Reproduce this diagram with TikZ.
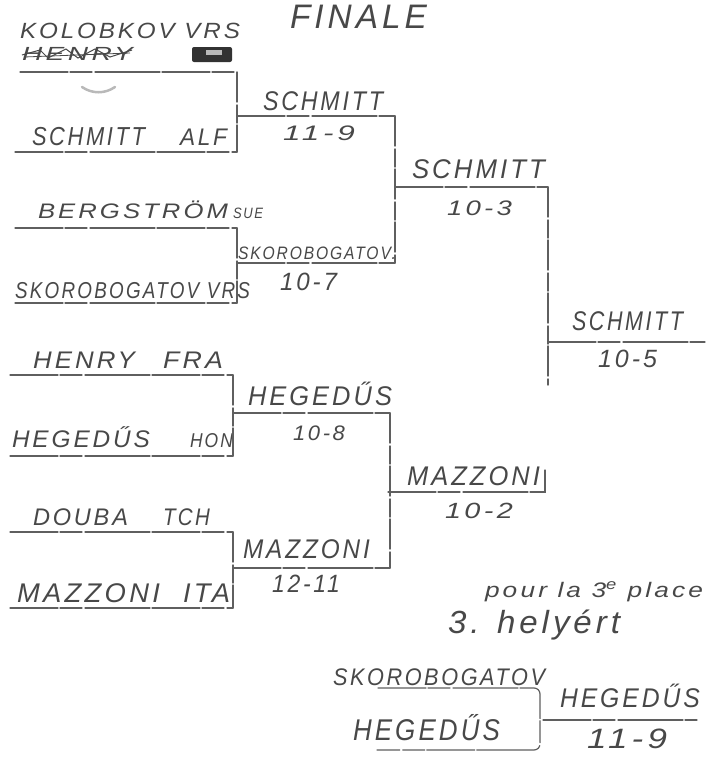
\documentclass[tikz,border=0pt]{standalone}
\usepackage{fontspec}
\usepackage{graphicx}
\newfontfamily\hand[LetterSpace=12]{Liberation Sans}
\definecolor{txtc}{RGB}{72,72,72}
\definecolor{linec}{RGB}{95,95,95}
\newcommand\hw[3]{\resizebox{#1pt}{\height}{\fontsize{#2}{#2}\selectfont\hand\itshape #3}}
\begin{document}
\begin{tikzpicture}[x=1pt,y=-1pt,
  lbl/.style={text=txtc, anchor=base west, inner sep=0pt, outer sep=0pt},
  bl/.style={draw=linec, line width=1.2pt, line cap=round,
     dash pattern=on 48pt off 2pt on 22pt off 3pt on 65pt off 2pt},
  vl/.style={draw=linec, line width=1.4pt, line cap=round,
     dash pattern=on 30pt off 3pt on 18pt off 2pt}]
\useasboundingbox (0,0) rectangle (725,774);
\fill[white] (0,0) rectangle (725,774);

% ---------- titles ----------
\node[lbl] (finale) at (290,28) {\hw{137}{34}{FINALE}};

% ---------- match 1 ----------
\node[lbl] (kol) at (20,38) {\hw{220}{22}{KOLOBKOV VRS}};
\node[lbl] (hen0) at (22,60) {\hw{111}{19}{HENRY}};
\draw[txtc, line width=1pt] (22,55) -- (40,50) -- (48,58) -- (66,49) -- (78,58) -- (95,49) -- (110,57) -- (132,50);
\draw[txtc, line width=0.8pt] (24,57) -- (130,53);
\fill[txtc!70!black, rounded corners=2pt] (192,47) rectangle (232,62);
\fill[gray!55] (206,50) rectangle (222,55);
\draw[gray!55, line width=2.5pt, line cap=round] (82,87) .. controls (92,94) and (105,94) .. (115,87);
\node[lbl] (sch1) at (32,145) {\hw{113}{26}{SCHMITT}};
\node[lbl] (alf) at (180,145) {\hw{47}{24}{ALF}};
\coordinate (m1a) at (20,72);  \coordinate (m1ar) at (237,72);
\coordinate (m1b) at (15,152); \coordinate (m1br) at (237,152);
\draw[bl] (m1a) -- (m1ar);
\draw[bl] (m1b) -- (m1br);
\draw[vl] (m1ar) -- (m1br);
\coordinate (w1a) at (237,116); \coordinate (w1b) at (395,116);
\draw[bl] (w1a) -- (w1b);
\node[lbl] (sch1w) at (263,110) {\hw{120}{27}{SCHMITT}};
\node[lbl] (sc1) at (283,140) {\hw{72}{21}{11-9}};

% ---------- match 2 ----------
\node[lbl] (berg) at (38,218) {\hw{190}{21}{BERGSTRÖM}};
\node[lbl] (sue) at (233,218) {\hw{30}{15}{SUE}};
\node[lbl] (skor1) at (15,298) {\hw{235}{23}{SKOROBOGATOV VRS}};
\coordinate (m2a) at (15,228);  \coordinate (m2ar) at (237,228);
\coordinate (m2b) at (15,303); \coordinate (m2br) at (237,303);
\draw[bl] (m2a) -- (m2ar);
\draw[bl] (m2b) -- (m2br);
\draw[vl] (m2ar) -- (m2br);
\coordinate (w2a) at (237,263); \coordinate (w2b) at (395,263);
\draw[bl] (w2a) -- (w2b);
\node[lbl] (skorw) at (238,259) {\hw{158}{18}{SKOROBOGATOV.}};
\node[lbl] (sc2) at (280,290) {\hw{57}{25}{10-7}};

% ---------- semifinal 1 ----------
\draw[vl] (w1b) -- (w2b);
\coordinate (s1a) at (395,187); \coordinate (s1b) at (548,187);
\draw[bl] (s1a) -- (s1b);
\node[lbl] (sch2) at (412,178) {\hw{133}{27}{SCHMITT}};
\node[lbl] (sc3) at (447,215) {\hw{65}{21}{10-3}};

% ---------- final ----------
\coordinate (fbot) at (548,385);
\draw[vl] (s1b) -- (fbot);
\coordinate (fa) at (548,342); \coordinate (fb) at (705,342);
\draw[bl] (fa) -- (fb);
\node[lbl] (sch3) at (572,330) {\hw{111}{27}{SCHMITT}};
\node[lbl] (sc4) at (598,367) {\hw{59}{25}{10-5}};

% ---------- match 3 ----------
\node[lbl] (henry) at (33,368) {\hw{102}{24}{HENRY}};
\node[lbl] (fra) at (163,368) {\hw{60}{24}{FRA}};
\node[lbl] (heg1) at (12,447) {\hw{138}{24}{HEGEDŰS}};
\node[lbl] (hon) at (190,447) {\hw{43}{20}{HON}};
\coordinate (m3a) at (10,375);  \coordinate (m3ar) at (233,375);
\coordinate (m3b) at (10,456); \coordinate (m3br) at (233,456);
\draw[bl] (m3a) -- (m3ar);
\draw[bl] (m3b) -- (m3br);
\draw[vl] (m3ar) -- (m3br);
\coordinate (w3a) at (233,413); \coordinate (w3b) at (390,413);
\draw[bl] (w3a) -- (w3b);
\node[lbl] (hegw) at (248,405) {\hw{144}{27}{HEGEDŰS}};
\node[lbl] (sc5) at (293,440) {\hw{52}{21}{10-8}};

% ---------- match 4 ----------
\node[lbl] (douba) at (33,525) {\hw{95}{24}{DOUBA}};
\node[lbl] (tch) at (163,525) {\hw{47}{24}{TCH}};
\node[lbl] (maz1) at (17,602) {\hw{143}{27}{MAZZONI}};
\node[lbl] (ita) at (183,602) {\hw{47}{27}{ITA}};
\coordinate (m4a) at (10,532);  \coordinate (m4ar) at (233,532);
\coordinate (m4b) at (10,608); \coordinate (m4br) at (233,608);
\draw[bl] (m4a) -- (m4ar);
\draw[bl] (m4b) -- (m4br);
\draw[vl] (m4ar) -- (m4br);
\coordinate (w4a) at (233,568); \coordinate (w4b) at (390,568);
\draw[bl] (w4a) -- (w4b);
\node[lbl] (mazw) at (243,558) {\hw{127}{27}{MAZZONI}};
\node[lbl] (sc6) at (272,592) {\hw{68}{25}{12-11}};

% ---------- semifinal 2 ----------
\draw[vl] (w3b) -- (w4b);
\coordinate (s2a) at (388,492); \coordinate (s2b) at (545,492);
\coordinate (s2t) at (545,470);
\draw[bl] (s2a) -- (s2b) -- (s2t);
\node[lbl] (maz2) at (407,485) {\hw{133}{27}{MAZZONI}};
\node[lbl] (sc7) at (445,518) {\hw{68}{22}{10-2}};

% ---------- third place ----------
\node[lbl] (pour) at (485,597) {\hw{218}{21}{pour la 3\textsuperscript{e} place}};
\node[lbl] (hely) at (448,633) {\hw{172}{32}{3. helyért}};
\node[lbl] (skor3) at (333,685) {\hw{212}{24}{SKOROBOGATOV}};
\node[lbl] (heg3) at (353,740) {\hw{147}{30}{HEGEDŰS}};
\coordinate (t3a) at (378,688); \coordinate (t3ar) at (540,688);
\coordinate (t3b) at (377,750); \coordinate (t3br) at (540,750);
\draw[bl, rounded corners=6pt] (t3a) -- (t3ar) -- (t3br) -- (t3b);
\coordinate (t3wa) at (543,720); \coordinate (t3wb) at (697,720);
\draw[bl] (t3wa) -- (t3wb);
\node[lbl] (heg3w) at (560,707) {\hw{140}{27}{HEGEDŰS}};
\node[lbl] (sc8) at (587,748) {\hw{80}{28}{11-9}};
\end{tikzpicture}
\end{document}
